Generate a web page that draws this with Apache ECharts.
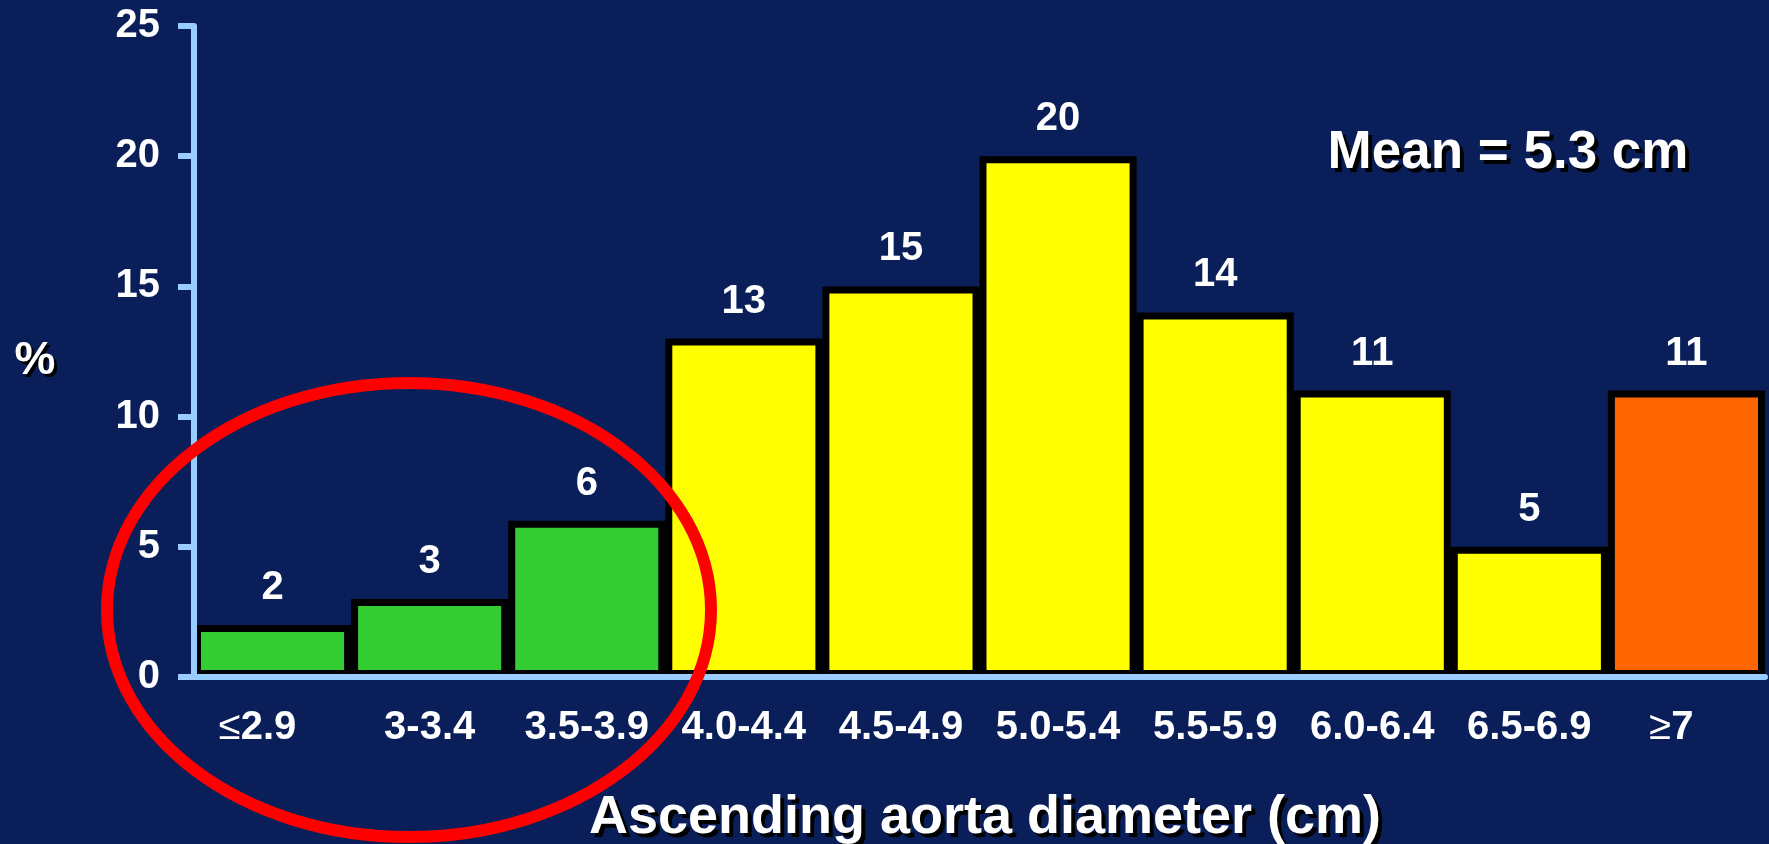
<!DOCTYPE html>
<html>
<head>
<meta charset="utf-8">
<title>Ascending aorta diameter</title>
<script src="https://cdn.jsdelivr.net/npm/echarts@6/dist/echarts.min.js"></script>
<style>
  html, body { margin: 0; padding: 0; background: #0A1F5A; }
  #chart { width: 1769px; height: 844px; }
</style>
</head>
<body>
<div id="chart"></div>
<script>
// Diameter bins and the share of patients (%) in each
const categories = ['≤2.9', '3-3.4', '3.5-3.9', '4.0-4.4', '4.5-4.9', '5.0-5.4', '5.5-5.9', '6.0-6.4', '6.5-6.9', '≥7'];
const percentValues = [2, 3, 6, 13, 15, 20, 14, 11, 5, 11];
const yTicks = [0, 5, 10, 15, 20, 25];
const meanText = 'Mean = 5.3 cm';
const axisTitle = 'Ascending aorta diameter (cm)';
const yTitle = '%';

// Fill colour per bin: small (green), typical (yellow), large (orange)
const GREEN = '#33CC33', YELLOW = '#FFFF00', ORANGE = '#FF6600';
const barColors = [GREEN, GREEN, GREEN, YELLOW, YELLOW, YELLOW, YELLOW, YELLOW, YELLOW, ORANGE];

const FONT = '"Liberation Sans", Arial, Helvetica, sans-serif';
const AXIS_BLUE = '#99CCFF';

// White caption with a hard black drop shadow, built as two stacked texts
function shadowedText(text, x, y, size, offset) {
  const base = {
    text: text,
    textAlign: 'center', textVerticalAlign: 'middle',
    font: 'bold ' + size + 'px ' + FONT
  };
  return [
    { type: 'text', z: 19, style: Object.assign({}, base, { x: x + offset, y: y + offset, fill: '#000000' }) },
    { type: 'text', z: 20, style: Object.assign({}, base, { x: x, y: y, fill: '#FFFFFF' }) }
  ];
}

const chart = echarts.init(document.getElementById('chart'), null, { renderer: 'canvas' });

chart.setOption({
  backgroundColor: '#0A1F5A',
  animation: false,
  grid: { left: 194, right: 4, top: 26, bottom: 167, containLabel: false },
  xAxis: {
    type: 'category',
    data: categories,
    z: 5,
    axisLine: { show: true, lineStyle: { color: AXIS_BLUE, width: 6 } },
    axisTick: { show: false },
    splitLine: { show: false },
    axisLabel: {
      interval: 0,
      margin: 31,
      color: '#FFFFFF',
      fontFamily: FONT,
      fontWeight: 'bold',
      fontSize: 40,
      formatter: function (v) {
        const c = v.charAt(0);
        if (c === '≤' || c === '≥') {
          return '{sym|' + c + '}{num|' + v.slice(1) + '}{pad|}';
        }
        return '{num|' + v + '}';
      },
      rich: {
        sym: { color: '#FFFFFF', fontFamily: FONT, fontWeight: 'normal', fontSize: 40 },
        num: { color: '#FFFFFF', fontFamily: FONT, fontWeight: 'bold', fontSize: 40 },
        pad: { width: 30 }
      }
    }
  },
  yAxis: {
    type: 'value',
    min: yTicks[0],
    max: yTicks[yTicks.length - 1],
    interval: yTicks[1] - yTicks[0],
    z: 5,
    axisLine: { show: true, lineStyle: { color: AXIS_BLUE, width: 6 } },
    axisTick: { show: true, inside: false, length: 16, lineStyle: { color: AXIS_BLUE, width: 6 } },
    splitLine: { show: false },
    axisLabel: {
      margin: 34,
      color: '#FFFFFF',
      fontFamily: FONT,
      fontWeight: 'bold',
      fontSize: 40
    }
  },
  series: [{
    type: 'bar',
    barCategoryGap: '0%',
    data: percentValues.map(function (v, i) {
      return { value: v, itemStyle: { color: barColors[i] } };
    }),
    itemStyle: { borderColor: '#000000', borderWidth: 7 },
    label: {
      show: true,
      position: 'top',
      distance: 17,
      color: '#FFFFFF',
      fontFamily: FONT,
      fontWeight: 'bold',
      fontSize: 40
    }
  }],
  graphic: [].concat(
    shadowedText(meanText, 1508, 153, 53, 4),
    shadowedText(yTitle, 35, 361, 46, 3),
    shadowedText(axisTitle, 985, 818, 54, 4),
    [{
      // highlight ring round the three smallest bins
      type: 'ellipse',
      z: 30,
      shape: { cx: 409, cy: 610, rx: 302, ry: 227 },
      style: { fill: 'none', stroke: '#FF0000', lineWidth: 12 }
    }]
  )
});
</script>
</body>
</html>
